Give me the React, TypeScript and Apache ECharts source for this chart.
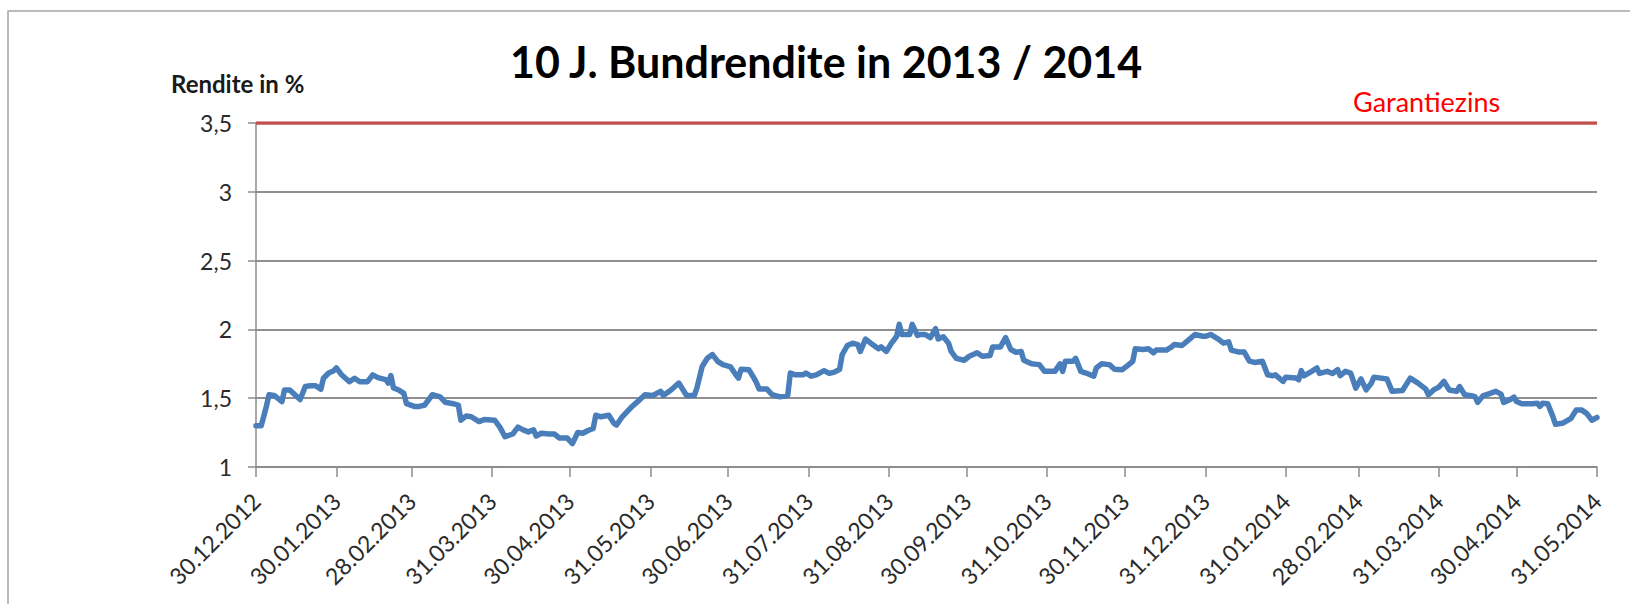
import React, { useEffect, useRef } from "react";
import * as echarts from "echarts";

// Axis: every calendar day from 30.12.2012 (offset 0) to 31.05.2014 (offset 517)
const dayCount = 518;
const tickLabels = [
  "30.12.2012", "30.01.2013", "28.02.2013", "31.03.2013", "30.04.2013", "31.05.2013",
  "30.06.2013", "31.07.2013", "31.08.2013", "30.09.2013", "31.10.2013", "30.11.2013",
  "31.12.2013", "31.01.2014", "28.02.2014", "31.03.2014", "30.04.2014", "31.05.2014",
];

// Days since 30.12.2012 and the 10-year Bund yield (%)
const dayOffsets = [
  0, 2, 4, 5, 7, 10, 11, 13, 15, 17, 19, 21, 23, 25, 26, 28, 30, 31, 33, 36,
  38, 40, 43, 45, 47, 50, 51, 52, 53, 55, 57, 58, 61, 63, 65, 66, 68, 71, 73, 76,
  78, 79, 81, 83, 86, 88, 92, 94, 96, 99, 101, 103, 105, 107, 108, 110, 113, 115, 117, 120,
  122, 124, 126, 128, 130, 131, 133, 136, 138, 139, 141, 143, 145, 148, 150, 153, 156, 157, 160, 163,
  166, 169, 170, 172, 174, 176, 178, 180, 183, 185, 186, 187, 190, 192, 193, 194, 197, 199, 202, 205,
  206, 208, 211, 212, 214, 216, 219, 221, 223, 225, 226, 228, 230, 232, 233, 235, 237, 240, 241, 243,
  245, 247, 248, 249, 252, 253, 255, 256, 258, 260, 262, 263, 265, 267, 268, 270, 273, 275, 278, 280,
  283, 284, 287, 289, 291, 293, 295, 296, 299, 302, 304, 308, 310, 311, 312, 315, 316, 318, 320, 323,
  324, 326, 329, 331, 334, 336, 338, 339, 342, 344, 346, 347, 351, 353, 354, 357, 359, 362, 365, 366,
  368, 371, 373, 375, 376, 379, 381, 383, 385, 388, 390, 392, 393, 396, 397, 401, 402, 403, 404, 407,
  409, 410, 413, 415, 417, 418, 420, 422, 423, 424, 426, 428, 430, 431, 436, 438, 442, 445, 448, 451,
  452, 454, 456, 458, 460, 463, 464, 466, 469, 470, 471, 473, 475, 478, 480, 481, 483, 485, 486, 488,
  492, 494, 495, 496, 498, 500, 501, 504, 507, 509, 511, 513, 515, 517,
];
const yields = [
  1.30, 1.30, 1.44, 1.525, 1.52, 1.475, 1.56, 1.56, 1.525, 1.49, 1.585, 1.59, 1.59, 1.565, 1.645, 1.683, 1.70, 1.72, 1.67, 1.62,
  1.645, 1.62, 1.62, 1.67, 1.65, 1.635, 1.61, 1.665, 1.575, 1.56, 1.535, 1.46, 1.44, 1.44, 1.45, 1.475, 1.525, 1.51, 1.47, 1.46,
  1.45, 1.34, 1.37, 1.365, 1.33, 1.345, 1.34, 1.29, 1.22, 1.24, 1.29, 1.27, 1.255, 1.27, 1.225, 1.245, 1.24, 1.24, 1.21, 1.21,
  1.17, 1.25, 1.245, 1.265, 1.28, 1.376, 1.365, 1.376, 1.317, 1.305, 1.36, 1.40, 1.44, 1.49, 1.525, 1.52, 1.55, 1.52, 1.56, 1.61,
  1.52, 1.52, 1.575, 1.73, 1.79, 1.817, 1.768, 1.744, 1.727, 1.67, 1.646, 1.71, 1.707, 1.646, 1.61, 1.566, 1.566, 1.525, 1.51, 1.52,
  1.683, 1.67, 1.67, 1.683, 1.66, 1.67, 1.70, 1.68, 1.69, 1.71, 1.817, 1.883, 1.90, 1.89, 1.84, 1.93, 1.90, 1.86, 1.873, 1.84,
  1.90, 1.95, 2.037, 1.963, 1.963, 2.037, 1.956, 1.963, 1.963, 1.94, 2.005, 1.93, 1.946, 1.90, 1.84, 1.79, 1.776, 1.805, 1.83, 1.805,
  1.81, 1.873, 1.873, 1.94, 1.854, 1.834, 1.84, 1.776, 1.75, 1.744, 1.695, 1.695, 1.75, 1.695, 1.768, 1.768, 1.79, 1.695, 1.683, 1.66,
  1.72, 1.75, 1.744, 1.71, 1.707, 1.737, 1.768, 1.86, 1.854, 1.86, 1.83, 1.85, 1.85, 1.873, 1.89, 1.883, 1.915, 1.963, 1.95, 1.95,
  1.963, 1.93, 1.90, 1.91, 1.85, 1.835, 1.835, 1.77, 1.76, 1.768, 1.67, 1.663, 1.67, 1.622, 1.653, 1.646, 1.634, 1.70, 1.663, 1.695,
  1.72, 1.68, 1.695, 1.68, 1.707, 1.663, 1.695, 1.683, 1.63, 1.573, 1.64, 1.56, 1.61, 1.653, 1.64, 1.55, 1.556, 1.646, 1.61, 1.566,
  1.525, 1.56, 1.58, 1.622, 1.56, 1.55, 1.585, 1.525, 1.517, 1.51, 1.47, 1.517, 1.53, 1.55, 1.53, 1.47, 1.485, 1.507, 1.476, 1.46,
  1.46, 1.463, 1.44, 1.463, 1.46, 1.366, 1.31, 1.32, 1.354, 1.415, 1.415, 1.39, 1.34, 1.36,
];
const guaranteeRate = 3.5;
const yMin = 1;
const yMax = 3.5;
const yStep = 0.5;

const pad = (n: number) => (n < 10 ? "0" + n : "" + n);
function buildDays(): string[] {
  const base = Date.UTC(2012, 11, 30);
  const out: string[] = [];
  for (let i = 0; i < dayCount; i++) {
    const d = new Date(base + i * 86400000);
    out.push(`${pad(d.getUTCDate())}.${pad(d.getUTCMonth() + 1)}.${d.getUTCFullYear()}`);
  }
  return out;
}

export default function App() {
  const ref = useRef<HTMLDivElement>(null);
  useEffect(() => {
    if (!ref.current) return;
    const chart = echarts.init(ref.current, null, { renderer: "svg" });
    const days = buildDays();
    const tickSet = new Set(tickLabels);
    const showTick = (_i: number, v: string) => tickSet.has(v);
    const font = "Lato, 'Open Sans', sans-serif";
    chart.setOption({
      animation: false,
      backgroundColor: "#ffffff",
      title: {
        text: "10 J. Bundrendite in 2013 / 2014",
        left: 505,
        top: 35,
        textStyle: { fontFamily: font, fontWeight: "bold", fontSize: 43, color: "#000000" },
      },
      graphic: [
        {
          type: "rect",
          shape: { x: 8, y: 11, width: 1640, height: 700 },
          style: { fill: "none", stroke: "#a6a6a6", lineWidth: 1.5 },
          silent: true,
        },
        {
          type: "text",
          x: 171,
          y: 83,
          style: {
            text: "Rendite in %",
            font: `bold 24px ${font}`,
            fill: "#1a1a1a",
            align: "left",
            verticalAlign: "middle",
            textAlign: "left",
            textVerticalAlign: "middle",
          },
        },
        {
          type: "text",
          x: 1353,
          y: 101,
          style: {
            text: "Garantiezins",
            font: `27px ${font}`,
            fill: "#ff0000",
            align: "left",
            verticalAlign: "middle",
            textAlign: "left",
            textVerticalAlign: "middle",
          },
        },
      ],
      grid: { left: 256, right: 33, top: 123, bottom: 137, containLabel: false },
      xAxis: {
        type: "category",
        data: days,
        boundaryGap: false,
        axisLine: { show: true, lineStyle: { color: "#8c8c8c", width: 1.5 } },
        axisTick: { show: true, interval: showTick, length: 10, lineStyle: { color: "#8c8c8c", width: 1.5 } },
        axisLabel: {
          interval: showTick,
          rotate: 45,
          margin: 30,
          fontFamily: font,
          fontSize: 23,
          color: "#2a2a2a",
        },
        splitLine: { show: false },
      },
      yAxis: {
        type: "value",
        min: yMin,
        max: yMax,
        interval: yStep,
        axisLine: { show: true, lineStyle: { color: "#8c8c8c", width: 1.5 } },
        axisTick: { show: true, length: 8, lineStyle: { color: "#8c8c8c", width: 1.5 } },
        axisLabel: {
          margin: 24,
          fontFamily: font,
          fontSize: 23,
          color: "#2a2a2a",
          formatter: (v: number) => String(v).replace(".", ","),
        },
        splitLine: { show: true, lineStyle: { color: "#8f8f8f", width: 1.8 } },
      },
      series: [
        {
          name: "Garantiezins",
          type: "line",
          data: [[0, guaranteeRate], [dayCount - 1, guaranteeRate]],
          symbol: "none",
          lineStyle: { color: "#c0504d", width: 3.5 },
          z: 3,
        },
        {
          name: "Rendite",
          type: "line",
          data: dayOffsets.map((d, i) => [d, yields[i]]),
          symbol: "none",
          lineStyle: { color: "#4a7ebb", width: 5.5, join: "round", cap: "round" },
          z: 4,
        },
      ],
    });
    return () => chart.dispose();
  }, []);
  return (
    <div
      ref={ref}
      style={{ position: "fixed", left: 0, top: 0, width: 1630, height: 604, background: "#fff" }}
    />
  );
}
